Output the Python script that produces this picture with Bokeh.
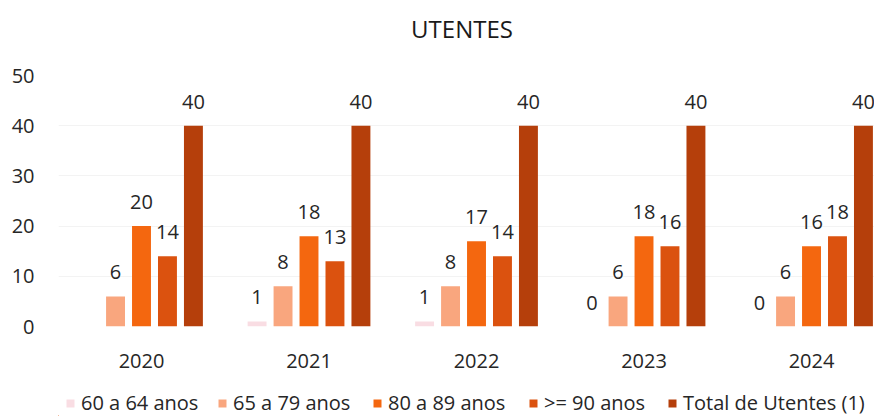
import numpy as np
from bokeh.plotting import figure
from bokeh.layouts import column
from bokeh.models import (ColumnDataSource, Range1d, FixedTicker, Legend, LegendItem, Label)
from bokeh.core.properties import value
from bokeh.embed import file_html
from bokeh.resources import INLINE

# ---- data ----
title_text = "UTENTES"
years = ["2020", "2021", "2022", "2023", "2024"]
series_names = ["60 a 64 anos", "65 a 79 anos", "80 a 89 anos", ">= 90 anos", "Total de Utentes (1)"]
v_60_64 = [None, 1, 1, 0, 0]
v_65_79 = [6, 8, 8, 6, 6]
v_80_89 = [20, 18, 17, 18, 16]
v_90_plus = [14, 13, 14, 16, 18]
v_total = [40, 40, 40, 40, 40]
y_ticks = [0, 10, 20, 30, 40, 50]

series_values = [v_60_64, v_65_79, v_80_89, v_90_plus, v_total]
colors = ["#f9dde3", "#f9a67e", "#f4670f", "#db520f", "#b53f0b"]
legend_x = [65, 217, 372, 528, 667]   # left edge of each legend entry (page px)

FONT = "Open Sans"
TXT = "#262626"
W = 874
FL = 58   # frame left (all figures in the column share aligned frames)

def strip(h):
    f = figure(width=W, height=h, output_backend="svg", toolbar_location=None,
               x_range=Range1d(FL, W), y_range=Range1d(0, h),
               x_axis_location=None, y_axis_location=None,
               min_border_left=FL, min_border_right=0, min_border_top=0, min_border_bottom=0)
    f.outline_line_color = None
    f.grid.visible = False
    f.border_fill_color = "white"
    return f

# ---- title strip ----
TH = 56
pt = strip(TH)
pt.add_layout(Label(x=461.5, y=TH - 28, text=title_text, text_align="center",
                    text_baseline="middle", text_font=FONT, text_font_size="24px",
                    text_color="#1a1a1a"))

# ---- main chart ----
p = figure(width=W, height=324, output_backend="svg", toolbar_location=None,
           x_range=Range1d(-0.4955, 4.376), y_range=Range1d(0, 50),
           min_border_left=FL, min_border_right=0, min_border_top=19, min_border_bottom=54)
p.outline_line_color = None
p.background_fill_color = "white"
p.border_fill_color = "white"

pitch = 0.155
bw = 0.113
idx = np.arange(len(years))
for j, (name, vals, col) in enumerate(zip(series_names, series_values, colors)):
    tops = np.array([np.nan if v is None else v for v in vals], dtype=float)
    xs = idx + (j - 2) * pitch
    src = ColumnDataSource(dict(x=xs, top=tops))
    p.vbar(x="x", top="top", width=bw, source=src, fill_color=col, line_color=None)
    mask = ~np.isnan(tops)
    lab = ColumnDataSource(dict(x=xs[mask], y=tops[mask],
                                t=[str(int(v)) for v in tops[mask]]))
    p.text(x="x", y="y", text="t", source=lab, text_align="center", text_baseline="middle",
           y_offset=-24, text_font=value(FONT), text_font_size="20px", text_color=TXT)

p.xaxis.ticker = FixedTicker(ticks=list(range(len(years))))
p.xaxis.major_label_overrides = {i: y for i, y in enumerate(years)}
p.yaxis.ticker = FixedTicker(ticks=y_ticks)
for ax in (p.xaxis, p.yaxis):
    ax.axis_line_color = None
    ax.major_tick_line_color = None
    ax.minor_tick_line_color = None
    ax.major_label_text_font = FONT
    ax.major_label_text_font_size = "20px"
    ax.major_label_text_color = TXT
p.yaxis.major_label_standoff = 18
p.xaxis.major_label_standoff = 21
p.xgrid.visible = False
p.ygrid.grid_line_color = "#f3f3f3"

# ---- legend strip ----
LH = 36
pl = strip(LH)
for name, col, lx in zip(series_names, colors, legend_x):
    # swatch source placed outside the visible range; only its legend glyph shows
    r = pl.vbar(x=[-100], top=[1], width=1, fill_color=col, line_color=None)
    lg = Legend(items=[LegendItem(label=name, renderers=[r])], orientation="horizontal",
                location=(lx - FL, 0), label_text_font=FONT, label_text_font_size="20px",
                label_text_color=TXT, glyph_width=10, glyph_height=10, label_standoff=6,
                padding=0, margin=0, border_line_color=None, background_fill_alpha=0)
    pl.add_layout(lg, "center")

layout = column(pt, p, pl, spacing=0)
open("out.html", "w").write(file_html(layout, INLINE))
